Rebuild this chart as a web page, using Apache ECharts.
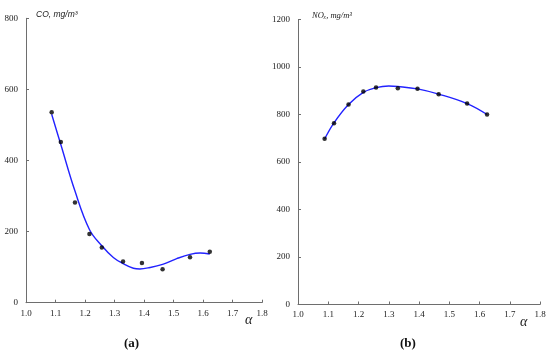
<!DOCTYPE html>
<html><head><meta charset="utf-8">
<script src="https://cdn.jsdelivr.net/npm/echarts@6/dist/echarts.min.js"></script>
<style>html,body{margin:0;padding:0;background:#fff}#c{width:550px;height:358px}</style>
</head><body><div id="c"></div>
<script>
// Chart (a): CO measured points
const coAlpha = [1.087, 1.118, 1.166, 1.215, 1.257, 1.329, 1.393, 1.463, 1.556, 1.623];
const coValue = [536, 452, 282, 193, 155, 116, 112, 94, 128, 143];
// Chart (a): trend curve
const coCurveAlpha = [1.087, 1.118, 1.166, 1.215, 1.257, 1.296, 1.329, 1.364, 1.386, 1.420, 1.463, 1.511, 1.556, 1.590, 1.623];
const coCurveValue = [530, 445, 314, 206, 160, 127, 110, 97, 95, 99, 108, 124, 136, 140, 137];
// Chart (b): NOx measured points
const noxAlpha = [1.088, 1.119, 1.167, 1.216, 1.258, 1.330, 1.395, 1.465, 1.559, 1.625];
const noxValue = [698, 763, 842, 897, 914, 911, 908, 885, 846, 800];
// Chart (b): trend curve
const noxCurveAlpha = [1.088, 1.119, 1.167, 1.216, 1.258, 1.300, 1.330, 1.395, 1.465, 1.559, 1.625];
const noxCurveValue = [697, 765, 842, 893, 913, 920, 918, 908, 886, 846, 800];
const xTicks = [1.0, 1.1, 1.2, 1.3, 1.4, 1.5, 1.6, 1.7, 1.8];

const serif = '"Liberation Serif", "Times New Roman", serif';
const sans = '"Liberation Sans", Arial, sans-serif';
const axisCommon = {
  axisLine: {show: true, lineStyle: {color: '#6e6e6e', width: 1}},
  axisTick: {show: true, inside: true, length: 3, lineStyle: {color: '#6e6e6e'}},
  splitLine: {show: false},
  axisLabel: {color: '#222', fontFamily: serif, fontSize: 9}
};
function xAx(i) {
  return Object.assign({}, axisCommon, {
    type: 'value', gridIndex: i, min: xTicks[0], max: xTicks[xTicks.length - 1], interval: 0.1,
    axisLabel: Object.assign({}, axisCommon.axisLabel, {margin: 6, formatter: v => v.toFixed(1)})
  });
}
function yAx(i, max) {
  return Object.assign({}, axisCommon, {
    type: 'value', gridIndex: i, min: 0, max: max, interval: 200,
    axisLabel: Object.assign({}, axisCommon.axisLabel, {margin: 8, formatter: v => String(v)})
  });
}
const chart = echarts.init(document.getElementById('c'), null, {renderer: 'canvas'});
chart.setOption({
  animation: false,
  grid: [
    {left: 26, top: 18.3, width: 236, height: 284.4},
    {left: 298, top: 19.5, width: 242, height: 285}
  ],
  xAxis: [xAx(0), xAx(1)],
  yAxis: [yAx(0, 800), yAx(1, 1200)],
  series: [
    {type: 'line', xAxisIndex: 0, yAxisIndex: 0, smooth: 0.4, showSymbol: false, z: 2,
     lineStyle: {color: '#2222ff', width: 1.4},
     data: coCurveAlpha.map((a, k) => [a, coCurveValue[k]])},
    {type: 'scatter', xAxisIndex: 0, yAxisIndex: 0, symbolSize: 4.5, z: 3,
     itemStyle: {color: '#000'},
     data: coAlpha.map((a, k) => [a, coValue[k]])},
    {type: 'line', xAxisIndex: 1, yAxisIndex: 1, smooth: 0.4, showSymbol: false, z: 2,
     lineStyle: {color: '#2222ff', width: 1.4},
     data: noxCurveAlpha.map((a, k) => [a, noxCurveValue[k]])},
    {type: 'scatter', xAxisIndex: 1, yAxisIndex: 1, symbolSize: 4.5, z: 3,
     itemStyle: {color: '#000'},
     data: noxAlpha.map((a, k) => [a, noxValue[k]])}
  ],
  graphic: [
    {type: 'text', left: 36, top: 10, style: {text: 'CO, mg/m³', font: 'italic 8.5px ' + sans, fill: '#222'}},
    {type: 'text', left: 312, top: 11, style: {text: 'NOₓ, mg/m³', font: 'italic 8.5px ' + serif, fill: '#222'}},
    {type: 'text', left: 245, top: 313, style: {text: 'α', font: 'italic 14px ' + serif, fill: '#222'}},
    {type: 'text', left: 520, top: 315, style: {text: 'α', font: 'italic 14px ' + serif, fill: '#222'}},
    {type: 'text', left: 124, top: 337, style: {text: '(a)', font: 'bold 13px ' + serif, fill: '#111'}},
    {type: 'text', left: 400, top: 337, style: {text: '(b)', font: 'bold 13px ' + serif, fill: '#111'}}
  ]
});
</script></body></html>
